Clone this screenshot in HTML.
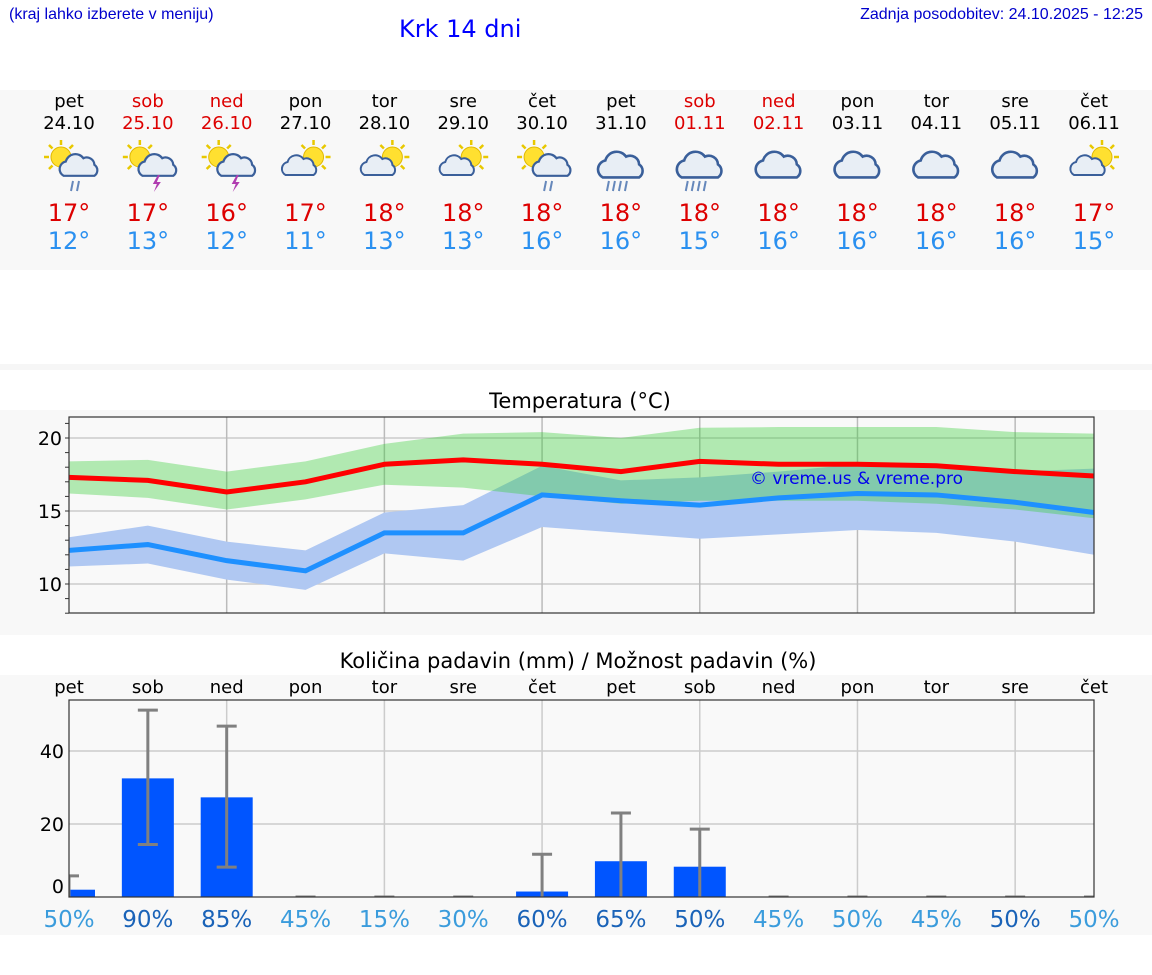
<!DOCTYPE html>
<html><head><meta charset="utf-8">
<style>
body{margin:0;width:1152px;height:975px;background:#fff;font-family:"DejaVu Sans","Liberation Sans",sans-serif;position:relative;overflow:hidden}
.abs{position:absolute}
</style></head><body>
<div class="abs" style="left:9px;top:6px;font-size:16px;color:#00c;font-family:'Liberation Sans',sans-serif">(kraj lahko izberete v meniju)</div>
<div class="abs" style="left:399px;top:15px;font-size:24px;color:#00f">Krk 14 dni</div>
<div class="abs" style="right:9px;top:6px;font-size:16px;color:#00c;font-family:'Liberation Sans',sans-serif">Zadnja posodobitev: 24.10.2025 - 12:25</div>
<div class="abs" style="left:0;top:90px;width:1152px;height:180px;background:#f8f8f8"></div>
<div class="abs" style="left:0;top:364px;width:1152px;height:6px;background:#f6f6f6"></div>
<div class="abs" style="left:0;top:410px;width:1152px;height:225px;background:#f8f8f8"></div>
<div class="abs" style="left:0;top:675px;width:1152px;height:260px;background:#f8f8f8"></div>
<svg class="abs" style="left:0;top:0" width="1152" height="975" id="svg"></svg>
<script>
const days=["pet","sob","ned","pon","tor","sre","čet","pet","sob","ned","pon","tor","sre","čet"];
const dates=["24.10","25.10","26.10","27.10","28.10","29.10","30.10","31.10","01.11","02.11","03.11","04.11","05.11","06.11"];
const weekend=[0,1,1,0,0,0,0,0,1,1,0,0,0,0];
const icons=["rain","storm","storm","cloudsun","cloudsun","cloudsun","rain","heavy","heavy","cloud","cloud","cloud","cloud","cloudsun"];
const maxT=[17,17,16,17,18,18,18,18,18,18,18,18,18,17];
const minT=[12,13,12,11,13,13,16,16,15,16,16,16,16,15];
const tMax=[17.3,17.1,16.3,17.0,18.2,18.5,18.2,17.7,18.4,18.2,18.2,18.1,17.7,17.4];
const tMaxHi=[18.4,18.5,17.7,18.4,19.6,20.3,20.4,20.0,20.7,20.75,20.75,20.75,20.4,20.3];
const tMaxLo=[16.2,15.9,15.1,15.8,16.8,16.6,16.0,15.5,15.7,15.7,15.7,15.5,15.1,14.5];
const tMin=[12.3,12.7,11.6,10.9,13.5,13.5,16.1,15.7,15.4,15.9,16.2,16.1,15.6,14.9];
const tMinHi=[13.2,14.0,12.9,12.3,14.9,15.4,18.1,17.1,17.3,17.7,18.2,18.2,17.7,17.9];
const tMinLo=[11.2,11.4,10.3,9.6,12.1,11.6,13.9,13.5,13.1,13.4,13.7,13.5,12.9,12.0];
const tTicks=[10,15,20];
const rain=[2,32.5,27.3,0,0,0,1.5,9.8,8.3,0,0,0,0,0];
const rainHi=[5.8,51.2,46.8,0,0,0,11.7,23,18.6,0,0,0,0,0];
const rainLo=[0,14.4,8.2,0,0,0,0,0,0,0,0,0,0,0];
const prob=[50,90,85,45,15,30,60,65,50,45,50,45,50,50];
const probDark=[0,1,1,0,0,0,1,1,1,0,0,0,1,0];
const rTicks=[0,20,40];

const svg=document.getElementById('svg');
const NS="http://www.w3.org/2000/svg";
function mk(tag,attrs,parent){const e=document.createElementNS(NS,tag);for(const k in attrs)e.setAttribute(k,attrs[k]);(parent||svg).appendChild(e);return e;}
const L=69,R=1094;
const X=i=>L+i*(R-L)/13;
const TY=v=>438+(20-v)*14.6;
const RY=v=>897-v*3.65;
const font='"DejaVu Sans","Liberation Sans",sans-serif';

days.forEach((d,i)=>{
 let t=mk('text',{x:X(i),y:107,'text-anchor':'middle','font-size':18,fill:weekend[i]?'#d00':'#000','font-family':font});t.textContent=d;
 
 
 t=mk('text',{x:X(i),y:129,'text-anchor':'middle','font-size':18,fill:weekend[i]?'#d00':'#000','font-family':font});t.textContent=dates[i];
 
 
 const g=mk('g',{transform:`translate(${X(i)},165)`});
 
 
 const ic=icons[i];
 if(ic!=='cloud'&&ic!=='heavy'){
  const sx=ic==='cloudsun'?8:-8,sy=-8;
  for(let a=0;a<8;a++){const an=a*Math.PI/4;mk('line',{x1:sx+Math.cos(an)*12,y1:sy+Math.sin(an)*12,x2:sx+Math.cos(an)*17,y2:sy+Math.sin(an)*17,stroke:'#e8c800','stroke-width':2.5},g);}
  mk('circle',{cx:sx,cy:sy,r:10,fill:'#ffe030',stroke:'#e0b800','stroke-width':1},g);
 }
 const cx=ic==='cloudsun'?-6:(ic==='rain'||ic==='storm'?10:0),s=(ic==='cloud'||ic==='heavy')?1.3:(ic==='cloudsun'?1:1.1);
 const cg=mk('g',{transform:`translate(${cx},2) scale(${s})`},g);
 mk('path',{d:'M-14,8 a7,7 0 0 1 2,-13 a9,9 0 0 1 16,-3 a7,7 0 0 1 10,6 a6,6 0 0 1 0,10 z',fill:'#e8eef5',stroke:'#3a5f9a','stroke-width':2},cg);
 if(ic==='rain'||ic==='heavy'){const n=ic==='heavy'?4:2;for(let k=0;k<n;k++){const rx=(ic==='heavy'?-12:4)+k*6;mk('line',{x1:rx,y1:16,x2:rx-2,y2:26,stroke:'#6688bb','stroke-width':2},g);}}
 if(ic==='storm'){mk('path',{d:'M10,10 l-5,9 h4 l-3,8 l7,-10 h-4 l3,-7z',fill:'#b03cb0'},g);}
 t=mk('text',{x:X(i),y:221,'text-anchor':'middle','font-size':24,fill:'#d00','font-family':font});t.textContent=maxT[i]+'°';
 
 
 t=mk('text',{x:X(i),y:249,'text-anchor':'middle','font-size':24,fill:'#2a90f0','font-family':font});t.textContent=minT[i]+'°';
 
 
});

let t=mk('text',{x:580,y:408,'text-anchor':'middle','font-size':21,fill:'#000','font-family':font});t.textContent='Temperatura (°C)';


mk('rect',{x:L,y:417,width:R-L,height:196,fill:'#f9f9f9'});
tTicks.forEach(v=>{mk('line',{x1:L,x2:R,y1:TY(v),y2:TY(v),stroke:'#ccc','stroke-width':1.5});
 const tt=mk('text',{x:62,y:TY(v)+7,'text-anchor':'end','font-size':19,fill:'#000','font-family':font});tt.textContent=v;
 
 });
for(let v=8;v<=21;v++){mk('line',{x1:L-4,x2:L,y1:TY(v),y2:TY(v),stroke:'#333','stroke-width':1});}
for(let i=2;i<13;i+=2)mk('line',{x1:X(i),x2:X(i),y1:417,y2:613,stroke:'#bbb','stroke-width':1.5});
function band(hi,lo,fill,name){let d='M'+hi.map((v,i)=>X(i)+','+TY(v)).join('L')+'L'+lo.map((v,i)=>X(i)+','+TY(v)).reverse().join('L')+'Z';
 const p=mk('path',{d:d,fill:fill});}
band(tMinHi,tMinLo,'rgb(176,200,242)','min-temp-band');
band(tMaxHi,tMaxLo,'rgba(50,205,50,0.36)','max-temp-band');
let p=mk('polyline',{points:tMax.map((v,i)=>X(i)+','+TY(v)).join(' '),fill:'none',stroke:'#f00','stroke-width':5});


p=mk('polyline',{points:tMin.map((v,i)=>X(i)+','+TY(v)).join(' '),fill:'none',stroke:'#1e90ff','stroke-width':5});


mk('rect',{x:L,y:417,width:R-L,height:196,fill:'none',stroke:'#333','stroke-width':1.2});
t=mk('text',{x:750,y:484,'font-size':17,fill:'#0000ee','font-family':font});t.textContent='© vreme.us & vreme.pro';



t=mk('text',{x:578,y:668,'text-anchor':'middle','font-size':21,fill:'#000','font-family':font});t.textContent='Količina padavin (mm) / Možnost padavin (%)';


mk('rect',{x:L,y:700,width:R-L,height:197,fill:'#f9f9f9'});
days.forEach((d,i)=>{const tt=mk('text',{x:X(i),y:693,'text-anchor':'middle','font-size':18,fill:'#000','font-family':font});tt.textContent=d;
 
 });
rTicks.forEach(v=>{if(v>0)mk('line',{x1:L,x2:R,y1:RY(v),y2:RY(v),stroke:'#ccc','stroke-width':1.5});
 const tt=mk('text',{x:64,y:RY(v)+(v===0?-4:7),'text-anchor':'end','font-size':19,fill:'#000','font-family':font});tt.textContent=v;
 
 });
for(let i=2;i<13;i+=2)mk('line',{x1:X(i),x2:X(i),y1:700,y2:897,stroke:'#ccc','stroke-width':1.5});
const cl=mk('clipPath',{id:'pc'});mk('rect',{x:L,y:700,width:R-L,height:197},cl);
const pg=mk('g',{'clip-path':'url(#pc)'});
rain.forEach((v,i)=>{
 const b=mk('rect',{x:X(i)-26,y:RY(v),width:52,height:RY(0)-RY(v),fill:'#0055ff'},pg);
 
 
 mk('line',{x1:X(i),x2:X(i),y1:RY(rainHi[i]),y2:RY(rainLo[i]),stroke:'#808080','stroke-width':3},pg);
 mk('line',{x1:X(i)-10,x2:X(i)+10,y1:RY(rainHi[i]),y2:RY(rainHi[i]),stroke:'#808080','stroke-width':3},pg);
 if(rainLo[i]>0)mk('line',{x1:X(i)-10,x2:X(i)+10,y1:RY(rainLo[i]),y2:RY(rainLo[i]),stroke:'#808080','stroke-width':3},pg);
 const tt=mk('text',{x:X(i),y:927,'text-anchor':'middle','font-size':23,fill:probDark[i]?'#1a63b8':'#3b9cdc','font-family':font});tt.textContent=prob[i]+'%';
 
 
});
mk('rect',{x:L,y:700,width:R-L,height:197,fill:'none',stroke:'#333','stroke-width':1.2});
</script>
</body></html>
